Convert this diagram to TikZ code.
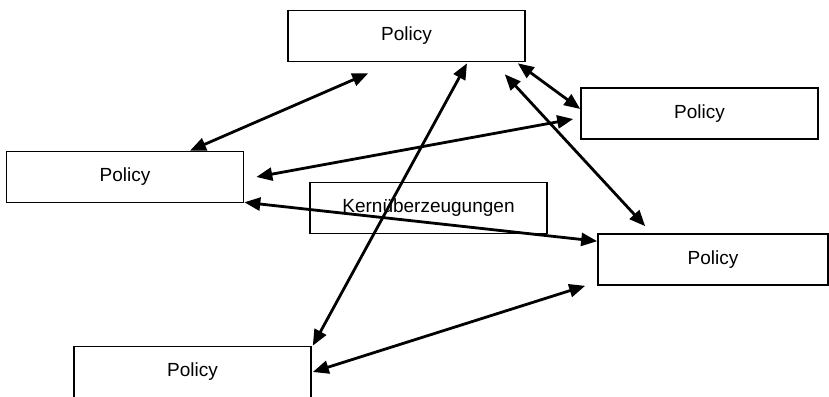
\documentclass[tikz,border=0pt]{standalone}
\usepackage{fontspec}
\setmainfont{Liberation Sans}
\usetikzlibrary{positioning,arrows.meta}

\begin{document}
\begin{tikzpicture}[x=1pt,y=-1pt,
	box/.style={draw, line width=1.6pt, minimum width=237pt, minimum height=51pt, inner sep=0pt, font=\fontsize{19}{21}\selectfont},
	link/.style={line width=2.8pt, {Triangle[length=16pt,width=13pt]}-{Triangle[length=16pt,width=13pt]}}]
	\useasboundingbox (0,0) rectangle (829,396);

	\node[box] (ptop) at (406.5,36) {Policy};
	\node[box] (prt) at (699.5,113.5) {Policy};
	\node[box] (pleft) at (125,177) {Policy};
	\node[box] (kern) at (428.5,208) {Kernüberzeugungen};
	\node[box, minimum width=230pt] (pright) at (713,259.5) {Policy};
	\node[box] (pbot) at (192.5,372) {Policy};

	\draw[link] ([xshift=65pt]pleft.north) -- ([xshift=81pt,yshift=-11pt]ptop.south west);
	\draw[link] ([xshift=-8pt,yshift=-1pt]ptop.south east) -- ([yshift=4.5pt]prt.west);
	\draw[link] ([xshift=-21pt,yshift=-12pt]ptop.south east) -- ([xshift=48pt,yshift=7pt]pright.north west);
	\draw[link] ([xshift=-7pt,yshift=-5.5pt]prt.west) -- ([xshift=12pt]pleft.east);
	\draw[link] ([yshift=1pt]pleft.south east) -- ([yshift=-8pt]pright.north west);
	\draw[link] ([xshift=60.5pt,yshift=-1pt]ptop.south) -- ([xshift=1pt]pbot.north east);
	\draw[link] ([xshift=1pt]pbot.east) -- ([xshift=-12pt]pright.south west);
\end{tikzpicture}
\end{document}
